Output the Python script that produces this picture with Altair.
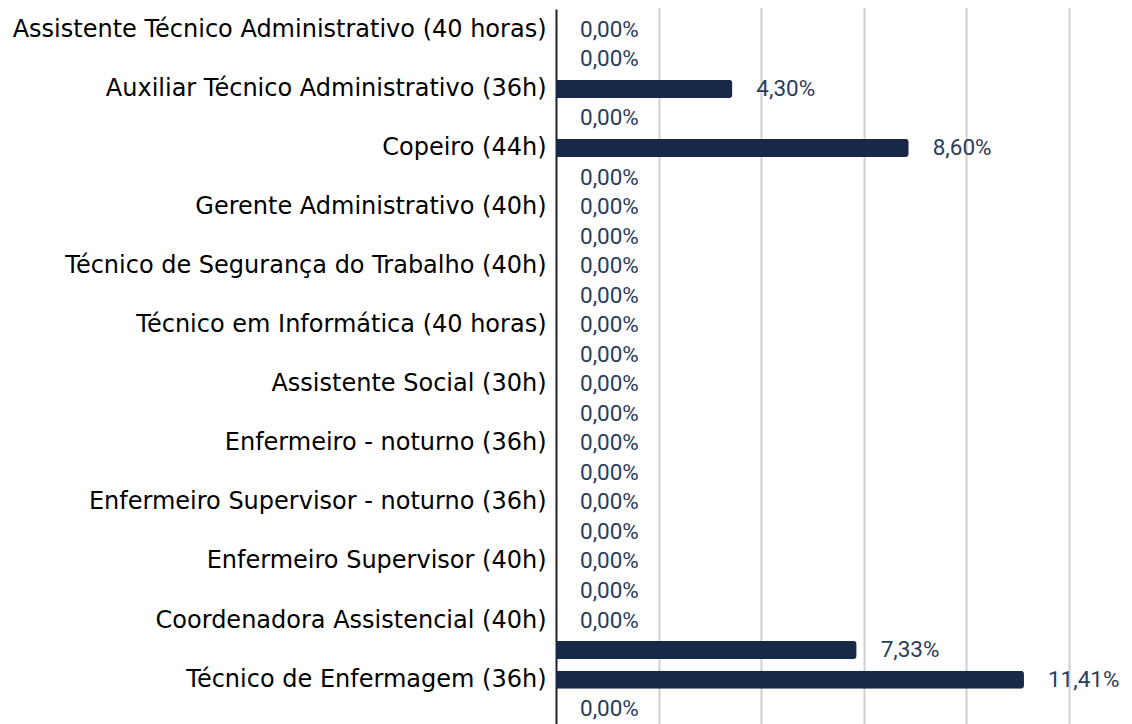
import altair as alt
import pandas as pd

labels = [
    "Assistente Técnico Administrativo (40 horas)", "",
    "Auxiliar Técnico Administrativo (36h)", "",
    "Copeiro (44h)", "",
    "Gerente Administrativo (40h)", "",
    "Técnico de Segurança do Trabalho (40h)", "",
    "Técnico em Informática (40 horas)", "",
    "Assistente Social (30h)", "",
    "Enfermeiro - noturno (36h)", "",
    "Enfermeiro Supervisor - noturno (36h)", "",
    "Enfermeiro Supervisor (40h)", "",
    "Coordenadora Assistencial (40h)", "",
    "Técnico de Enfermagem (36h)", "",
]
values = [0.00, 0.00, 4.30, 0.00, 8.60, 0.00, 0.00, 0.00, 0.00, 0.00, 0.00, 0.00,
          0.00, 0.00, 0.00, 0.00, 0.00, 0.00, 0.00, 0.00, 0.00, 7.33, 11.41, 0.00]
grid_ticks = [2.5, 5.0, 7.5, 10.0, 12.5]

df = pd.DataFrame({
    "row": list(range(len(values))),
    "value": values,
    "txt": [f"{v:.2f}".replace(".", ",") + "%" for v in values],
})

label_js = "[" + ",".join("'" + s + "'" for s in labels) + "]"

yscale = alt.Scale(range=[0, 721], paddingInner=0.39, paddingOuter=0.4)
xscale = alt.Scale(domain=[0, 13.8], nice=False, zero=True)

base = alt.Chart(df)

bars = base.mark_bar(color="#172947", cornerRadiusEnd=3).encode(
    y=alt.Y("row:O", scale=yscale, sort=None,
            axis=alt.Axis(title=None, labelExpr=label_js + "[datum.value]",
                          ticks=False, domain=True, domainColor="#222222",
                          domainWidth=2, labelFont="'DejaVu Sans', Verdana, sans-serif",
                          labelFontSize=24,
                          labelColor="#000000", labelPadding=10, grid=False,
                          labelLimit=600)),
    x=alt.X("value:Q", scale=xscale,
            axis=alt.Axis(title=None, labels=False, ticks=False, domain=False,
                          values=grid_ticks, grid=True, gridColor="#d0d0d0",
                          gridWidth=2)),
)

text = base.mark_text(align="left", baseline="middle", dx=24, font="Roboto",
                      fontSize=22.5, color="#2b3c5a").encode(
    y=alt.Y("row:O", scale=yscale, sort=None),
    x=alt.X("value:Q", scale=xscale),
    text="txt:N",
)

chart = (bars + text).properties(
    width=566, height=715,
    autosize=alt.AutoSizeParams(type="none"),
    padding={"left": 548, "top": 1, "right": 0, "bottom": 0},
).configure_view(stroke=None)

chart.save("out.html", embed_options={"renderer": "svg", "actions": False})
